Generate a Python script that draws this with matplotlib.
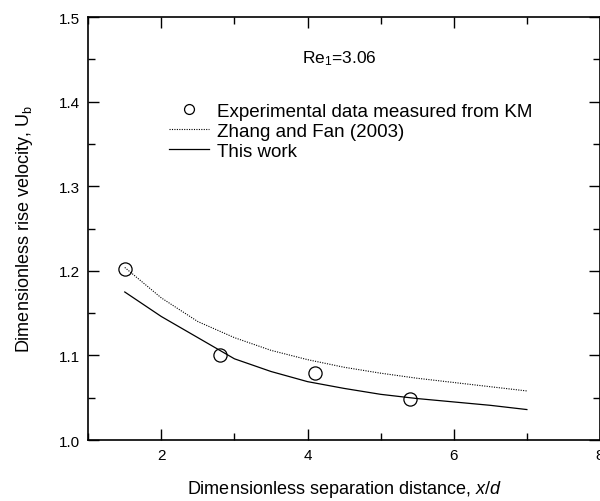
import numpy as np
import matplotlib
matplotlib.use("Agg")
import matplotlib.pyplot as plt
from matplotlib.ticker import MultipleLocator

plt.rcParams['font.family'] = ['Liberation Sans', 'DejaVu Sans']
plt.rcParams['mathtext.fontset'] = 'custom'
plt.rcParams['mathtext.rm'] = 'Liberation Sans'
plt.rcParams['mathtext.it'] = 'Liberation Sans:italic'

# experimental points (KM)
x_exp = [1.5, 2.8, 4.1, 5.4]
u_exp = [1.202, 1.101, 1.079, 1.049]

# Zhang and Fan (2003)
x_zf = [1.5, 2.0, 2.5, 3.0, 3.5, 4.0, 4.5, 5.0, 5.5, 6.0, 6.5, 7.0]
u_zf = [1.204, 1.168, 1.140, 1.121, 1.106, 1.095, 1.086, 1.079, 1.073, 1.068, 1.063, 1.058]

# this work
x_tw = [1.5, 2.0, 2.5, 3.0, 3.5, 4.0, 4.5, 5.0, 5.5, 6.0, 6.5, 7.0]
u_tw = [1.175, 1.146, 1.121, 1.096, 1.081, 1.069, 1.061, 1.054, 1.049, 1.045, 1.041, 1.036]

fig = plt.figure(figsize=(6.0, 5.02), dpi=100)
ax = fig.add_axes([0.147, 0.1215, 0.853, 0.8425])

ax.plot(x_exp, u_exp, linestyle='none', marker='o', markersize=9.5, markerfacecolor='none',
        markeredgecolor='black', markeredgewidth=0.9, label='Experimental data measured from KM')
ax.plot(x_zf, u_zf, linestyle=(0, (1, 1.2)), color='black', linewidth=0.8, label='Zhang and Fan (2003)')
ax.plot(x_tw, u_tw, linestyle='-', color='black', linewidth=0.9, label='This work')

ax.set_xlim(1, 8)
ax.set_ylim(1.0, 1.5)
ax.xaxis.set_minor_locator(MultipleLocator(1))
ax.yaxis.set_minor_locator(MultipleLocator(0.05))
ax.set_xticks([2, 4, 6, 8])
ax.set_xticklabels(['2', '4', '6', '8'])
ax.set_yticks([1.0, 1.1, 1.2, 1.3, 1.4, 1.5])
ax.set_yticklabels(['1.0', '1.1', '1.2', '1.3', '1.4', '1.5'])

ax.tick_params(which='both', direction='in', top=True, right=True, width=1.0, labelsize=11, pad=6)
ax.tick_params(which='major', length=8)
ax.tick_params(which='minor', length=5)
for s in ax.spines.values():
    s.set_linewidth(1.2)

ax.set_xlabel('Dimensionless separation distance, $\\mathit{x}$/$\\mathit{d}$', fontsize=13, labelpad=11)
ax.set_ylabel('Dimensionless rise velocity, U$_\\mathregular{b}$', fontsize=13)
ax.yaxis.set_label_coords(-0.1035, 0.5)

ax.text(4.43, 1.452, 'Re$_\\mathregular{1}$=3.06', fontsize=12.5, ha='center', va='center')

ax.legend(loc='upper left', bbox_to_anchor=(0.158, 0.797), frameon=False, fontsize=13.5,
          handlelength=2.15, handletextpad=0.42, labelspacing=0.15, borderaxespad=0, borderpad=0,
          markerscale=0.75)

fig.savefig('out.png', dpi=100)
